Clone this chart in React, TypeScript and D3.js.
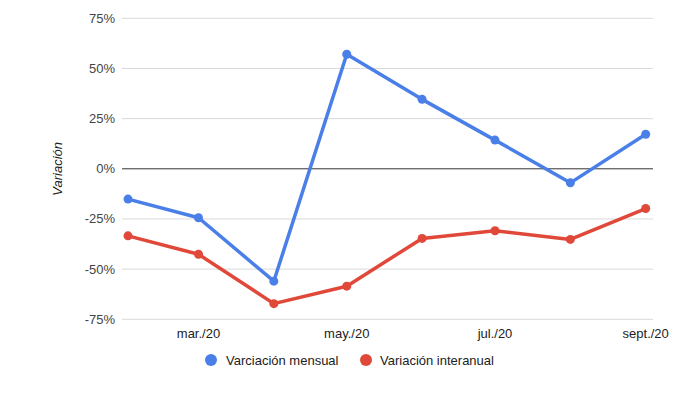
import * as d3 from "d3";

const months = ["2020-02-01", "2020-03-01", "2020-04-01", "2020-05-01", "2020-06-01", "2020-07-01", "2020-08-01", "2020-09-01"];
const tickMonths = ["2020-03-01", "2020-05-01", "2020-07-01", "2020-09-01"];
const tickLabels = ["mar./20", "may./20", "jul./20", "sept./20"];
const mensual = [-15.1, -24.4, -56, 57.1, 34.6, 14.3, -7, 17.2];
const interanual = [-33.4, -42.6, -67.2, -58.5, -34.7, -30.9, -35.2, -19.8];
const yTicks = [-75, -50, -25, 0, 25, 50, 75];

const series = [
  { name: "Varciación mensual", values: mensual, color: "#4a7fe8" },
  { name: "Variación interanual", values: interanual, color: "#e0483a" },
];

const W = 697;
const H = 394;
const parse = d3.utcParse("%Y-%m-%d");

export default function App() {
  const dates = months.map((m) => parse(m) as Date);
  const x = d3
    .scaleUtc()
    .domain([dates[0], dates[dates.length - 1]])
    .range([128, 645.7]);
  const y = d3.scaleLinear().domain([-75, 75]).range([319.3, 18.3]);
  const line = d3
    .line<number>()
    .x((_, i) => x(dates[i]))
    .y((d) => y(d));

  const font = "'Liberation Sans', Arial, sans-serif";

  return (
    <svg width={W} height={H} style={{ position: "absolute", left: 0, top: 0, background: "#fff" }} fontFamily={font}>
      {yTicks.map((t) => (
        <g key={t}>
          <line
            x1={122}
            x2={653}
            y1={y(t)}
            y2={y(t)}
            stroke={t === 0 ? "#333" : "#d9d9d9"}
            strokeWidth={1}
          />
          <text x={115} y={y(t) + 4.5} textAnchor="end" fontSize={13} fill="#444">
            {t}%
          </text>
        </g>
      ))}
      {tickMonths.map((m, i) => (
        <text key={m} x={x(parse(m) as Date)} y={338} textAnchor="middle" fontSize={13} fill="#222">
          {tickLabels[i]}
        </text>
      ))}
      <text
        transform={`translate(62,${y(0)}) rotate(-90)`}
        textAnchor="middle"
        fontSize={13}
        fontStyle="italic"
        fill="#222"
      >
        Variación
      </text>
      {series.map((s) => (
        <g key={s.name}>
          <path d={line(s.values) || ""} fill="none" stroke={s.color} strokeWidth={3.5} strokeLinejoin="round" />
          {s.values.map((v, i) => (
            <circle key={i} cx={x(dates[i])} cy={y(v)} r={4.5} fill={s.color} />
          ))}
        </g>
      ))}
      <g>
        <circle cx={211} cy={360} r={6} fill={series[0].color} />
        <text x={226} y={364.5} fontSize={13} fill="#222">
          {series[0].name}
        </text>
        <circle cx={366} cy={360} r={6} fill={series[1].color} />
        <text x={380} y={364.5} fontSize={13} fill="#222">
          {series[1].name}
        </text>
      </g>
    </svg>
  );
}
